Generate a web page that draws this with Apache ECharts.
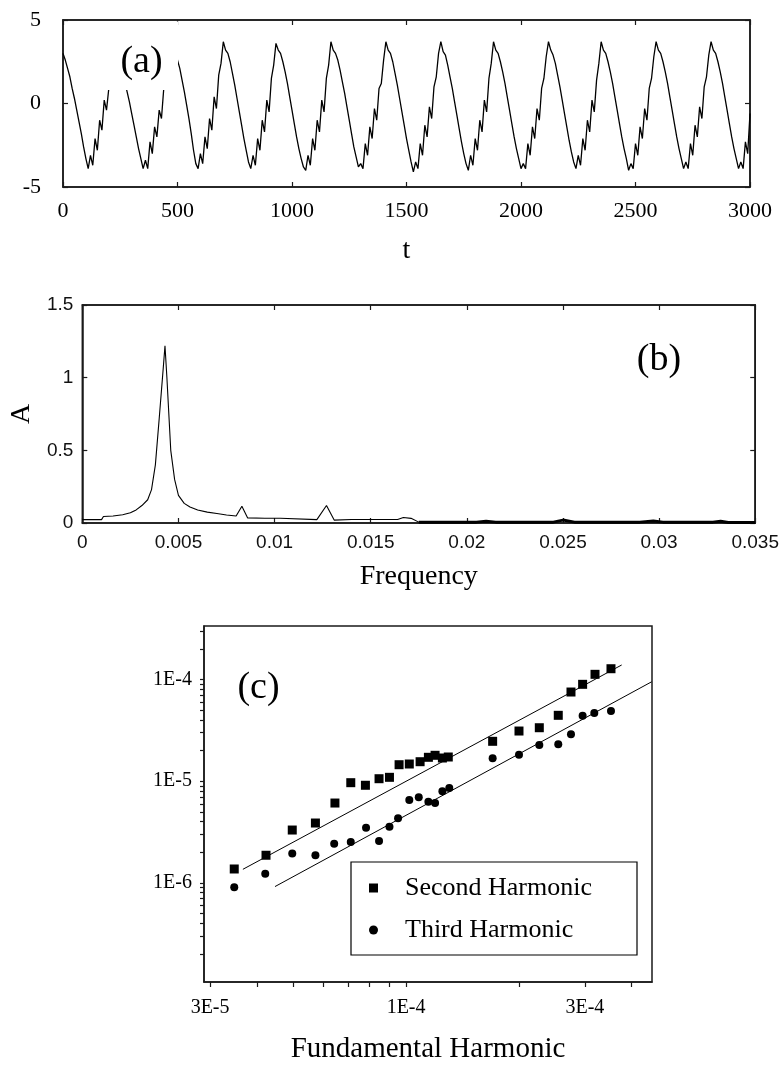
<!DOCTYPE html>
<html><head><meta charset="utf-8">
<script src="https://cdn.jsdelivr.net/npm/echarts@6.0.0/dist/echarts.min.js"></script>
<style>html,body{margin:0;padding:0;background:#fff}#chart{width:782px;height:1072px}</style>
</head><body><div id="chart"></div>
<script>
// ---------- Panel (a): time series, one value every 10 time units from t=0 to t=3000
const timeStepA = 10;
const signalA = [
  3.0, 2.6, 2.1, 1.6, 0.9, 0.3, -0.4, -1.1, -1.8, -2.6,
  -3.3, -3.9, -3.1, -3.7, -2.1, -2.8, -1.0, -1.6, 0.2, -0.4,
  0.9, 1.3, 2.6, 3.5, 3.2, 2.7, 1.9, 1.3, 0.7, 0.1,
  -0.6, -1.3, -2.0, -2.7, -3.3, -3.9, -3.4, -3.9, -2.3, -3.0,
  -1.4, -2.0, -0.4, -0.9, 0.9, 1.8, 2.9, 3.6, 3.3, 3.0,
  2.6, 2.1, 1.4, 0.7, -0.1, -0.9, -1.8, -2.8, -3.6, -3.9,
  -3.0, -3.6, -2.0, -2.7, -0.9, -1.6, 0.4, -0.3, 1.7, 2.4,
  3.7, 3.2, 3.0, 2.5, 1.8, 1.1, 0.3, -0.5, -1.3, -2.1,
  -2.8, -3.5, -3.9, -3.1, -3.7, -2.1, -2.8, -1.0, -1.7, 0.2,
  -0.5, 1.5, 2.3, 3.6, 3.2, 3.0, 2.5, 1.9, 1.2, 0.4,
  -0.4, -1.2, -2.0, -2.7, -3.3, -3.8, -4.0, -3.1, -3.7, -2.1,
  -2.8, -1.0, -1.7, 0.2, -0.5, 1.5, 2.3, 3.7, 3.2, 3.0,
  2.6, 2.0, 1.3, 0.6, -0.2, -1.0, -1.8, -2.6, -3.2, -3.8,
  -3.6, -3.9, -2.4, -3.1, -1.4, -2.1, -0.3, -1.0, 0.9, 1.2,
  2.6, 3.7, 3.2, 3.0, 2.5, 1.8, 1.1, 0.3, -0.5, -1.3,
  -2.1, -2.8, -3.5, -4.1, -3.5, -3.9, -2.4, -3.1, -1.3, -2.0,
  -0.2, -0.9, 1.0, 1.6, 3.0, 3.7, 3.1, 2.9, 2.3, 1.6,
  0.9, 0.1, -0.7, -1.5, -2.3, -3.0, -3.6, -4.0, -3.1, -3.7,
  -2.1, -2.8, -1.0, -1.7, 0.2, -0.5, 1.5, 2.4, 3.7, 3.2,
  3.0, 2.5, 1.9, 1.2, 0.4, -0.4, -1.2, -2.0, -2.7, -3.3,
  -3.9, -3.6, -3.9, -2.4, -3.1, -1.4, -2.1, -0.3, -1.0, 0.9,
  1.5, 2.8, 3.7, 3.2, 2.9, 2.4, 1.7, 1.0, 0.2, -0.6,
  -1.4, -2.2, -2.9, -3.5, -3.9, -3.1, -3.7, -2.1, -2.8, -1.0,
  -1.7, 0.2, -0.5, 1.4, 2.4, 3.7, 3.2, 3.0, 2.5, 1.9,
  1.2, 0.4, -0.4, -1.2, -2.0, -2.7, -3.3, -4.0, -3.6, -3.9,
  -2.4, -3.1, -1.4, -2.1, -0.3, -1.0, 0.9, 1.5, 2.8, 3.7,
  3.2, 3.0, 2.5, 1.9, 1.2, 0.4, -0.4, -1.2, -2.0, -2.7,
  -3.3, -3.9, -3.5, -3.9, -2.4, -3.1, -1.3, -2.0, -0.2, -0.9,
  1.0, 1.6, 2.9, 3.7, 3.2, 3.0, 2.5, 1.9, 1.2, 0.4,
  -0.4, -1.2, -2.0, -2.7, -3.3, -3.9, -3.5, -3.9, -2.3, -3.0,
  -0.6
];

// ---------- Panel (b): amplitude spectrum
const freqB = [0, 0.0010, 0.0011, 0.0016, 0.0021, 0.0025, 0.0028, 0.0031, 0.0034, 0.0036,
  0.0038, 0.0040, 0.0042, 0.0043, 0.0044, 0.0045, 0.0046, 0.0048, 0.0050, 0.0053,
  0.0056, 0.0060, 0.0065, 0.0070, 0.0075, 0.0080, 0.0083, 0.0086, 0.0095, 0.0103,
  0.0104, 0.0122, 0.0127, 0.0131, 0.0140, 0.0150, 0.0164, 0.0167, 0.0171, 0.0175];
const ampB = [0.023, 0.023, 0.045, 0.048, 0.057, 0.07, 0.09, 0.12, 0.16, 0.23,
  0.40, 0.72, 1.05, 1.22, 1.0, 0.75, 0.50, 0.30, 0.19, 0.135,
  0.11, 0.09, 0.075, 0.065, 0.055, 0.048, 0.115, 0.035, 0.033, 0.033,
  0.023, 0.023, 0.12, 0.02, 0.024, 0.024, 0.024, 0.038, 0.032, 0.006];
// noise floor above 0.0175 (drawn heavier)
const freqTailB = [0.0175, 0.0205, 0.0210, 0.0215, 0.0245, 0.0250, 0.0256, 0.0290, 0.0297, 0.0302, 0.0328, 0.0332, 0.0336, 0.0350];
const ampTailB  = [0.006, 0.006, 0.012, 0.006, 0.006, 0.020, 0.006, 0.006, 0.014, 0.006, 0.006, 0.012, 0.004, 0.004];

// ---------- Panel (c): harmonics vs fundamental (log-log)
const fundamental2 = [3.48e-5, 4.23e-5, 4.97e-5, 5.73e-5, 6.46e-5, 7.12e-5, 7.79e-5, 8.47e-5, 9.03e-5, 9.58e-5,
  1.02e-4, 1.09e-4, 1.147e-4, 1.195e-4, 1.25e-4, 1.296e-4, 1.702e-4, 2.001e-4, 2.267e-4, 2.547e-4,
  2.754e-4, 2.958e-4, 3.192e-4, 3.521e-4];
const secondHarmonic = [1.37e-6, 1.87e-6, 3.31e-6, 3.88e-6, 6.10e-6, 9.67e-6, 9.12e-6, 1.058e-5, 1.092e-5, 1.453e-5,
  1.476e-5, 1.555e-5, 1.718e-5, 1.798e-5, 1.691e-5, 1.73e-5, 2.468e-5, 3.115e-5, 3.357e-5, 4.446e-5,
  7.535e-5, 8.97e-5, 1.125e-4, 1.277e-4];
const fundamental3 = [3.48e-5, 4.21e-5, 4.97e-5, 5.73e-5, 6.43e-5, 7.12e-5, 7.82e-5, 8.47e-5, 9.03e-5, 9.52e-5,
  1.02e-4, 1.081e-4, 1.147e-4, 1.195e-4, 1.25e-4, 1.304e-4, 1.702e-4, 2.001e-4, 2.267e-4, 2.547e-4,
  2.754e-4, 2.958e-4, 3.178e-4, 3.521e-4];
const thirdHarmonic = [9.05e-7, 1.23e-6, 1.95e-6, 1.87e-6, 2.43e-6, 2.52e-6, 3.49e-6, 2.58e-6, 3.57e-6, 4.32e-6,
  6.53e-6, 6.94e-6, 6.29e-6, 6.10e-6, 7.96e-6, 8.57e-6, 1.68e-5, 1.823e-5, 2.27e-5, 2.306e-5,
  2.892e-5, 4.406e-5, 4.684e-5, 4.90e-5];
const fitSecondX = [3.67e-5, 3.76e-4];
const fitSecondY = [1.36e-6, 1.39e-4];
const fitThirdX = [4.47e-5, 4.52e-4];
const fitThirdY = [9.2e-7, 9.5e-5];
const xLabelValuesC = [3e-5, 1e-4, 3e-4];
const xTickValuesC = [3e-5, 4e-5, 5e-5, 6e-5, 7e-5, 8e-5, 9e-5, 1e-4, 2e-4, 3e-4, 4e-4];
const yLabelValuesC = [1e-6, 1e-5, 1e-4];
const yTickValuesC = [2e-7, 3e-7, 4e-7, 5e-7, 6e-7, 7e-7, 8e-7, 9e-7, 1e-6, 2e-6, 3e-6, 4e-6, 5e-6, 6e-6, 7e-6, 8e-6, 9e-6,
  1e-5, 2e-5, 3e-5, 4e-5, 5e-5, 6e-5, 7e-5, 8e-5, 9e-5, 1e-4, 2e-4, 3e-4];

// ---------- chart
const SERIF = '"Liberation Serif","Times New Roman",serif';
const SANS = '"Liberation Sans",Arial,sans-serif';
const INK = '#1a1a1a';
const pairs = (xs, ys) => xs.map((x, i) => [x, ys[i]]);
const sciLabel = v => {
  const e = Math.floor(Math.log10(v) + 1e-9);
  const m = Math.round(v / Math.pow(10, e));
  return m + 'E' + e;
};
const lineA = {color: INK, width: 1.5};
function mirror(base, pos) {
  return Object.assign({}, base, {
    position: pos, name: '', axisLabel: {show: false},
    axisTick: {show: true, inside: true, length: 5, lineStyle: {color: INK, width: 1.2}}
  });
}
const ax0 = {gridIndex: 0, type: 'value', min: 0, max: 3000, interval: 500, axisLine: {show: true, onZero: false, lineStyle: lineA},
  axisTick: {inside: true, length: 5, lineStyle: {color: INK, width: 1.2}}, splitLine: {show: false},
  axisLabel: {color: '#000', fontFamily: SERIF, fontSize: 22, margin: 13, formatter: v => String(v)},
  name: 't', nameLocation: 'middle', nameGap: 50, nameTextStyle: {color: '#000', fontFamily: SERIF, fontSize: 28}};
const ay0 = {gridIndex: 0, type: 'value', min: -5, max: 5, interval: 5, axisLine: {show: true, onZero: false, lineStyle: lineA},
  axisTick: {inside: true, length: 5, lineStyle: {color: INK, width: 1.2}}, splitLine: {show: false},
  axisLabel: {color: '#000', fontFamily: SERIF, fontSize: 22, margin: 22}};
const ax1 = {gridIndex: 1, type: 'value', min: 0, max: 0.035, interval: 0.005, axisLine: {show: true, onZero: false, lineStyle: lineA},
  axisTick: {inside: true, length: 5, lineStyle: {color: INK, width: 1.2}}, splitLine: {show: false},
  axisLabel: {color: '#111', fontFamily: SANS, fontSize: 19, margin: 10},
  name: 'Frequency', nameLocation: 'middle', nameGap: 40, nameTextStyle: {color: '#000', fontFamily: SERIF, fontSize: 28}};
const ay1 = {gridIndex: 1, type: 'value', min: 0, max: 1.5, interval: 0.5, axisLine: {show: true, onZero: false, lineStyle: lineA},
  axisTick: {inside: true, length: 5, lineStyle: {color: INK, width: 1.2}}, splitLine: {show: false},
  axisLabel: {color: '#111', fontFamily: SANS, fontSize: 19, margin: 9},
  name: 'A', nameLocation: 'middle', nameGap: 38, nameRotate: 90, nameTextStyle: {color: '#000', fontFamily: SERIF, fontSize: 28}};
const ax2 = {gridIndex: 2, type: 'log', logBase: 10, min: 2.89e-5, max: 4.53e-4,
  axisLine: {show: true, onZero: false, lineStyle: lineA},
  axisTick: {show: true, inside: false, length: 5, customValues: xTickValuesC, lineStyle: {color: INK, width: 1.2}},
  minorTick: {show: false}, splitLine: {show: false},
  axisLabel: {color: '#000', fontFamily: SERIF, fontSize: 20, margin: 16, customValues: xLabelValuesC, formatter: sciLabel},
  name: 'Fundamental Harmonic', nameLocation: 'middle', nameGap: 53, nameTextStyle: {color: '#000', fontFamily: SERIF, fontSize: 29}};
const ay2 = {gridIndex: 2, type: 'log', logBase: 10, min: 1.06e-7, max: 3.36e-4,
  axisLine: {show: true, onZero: false, lineStyle: lineA},
  axisTick: {show: true, inside: false, length: 4, customValues: yTickValuesC, lineStyle: {color: INK, width: 1.2}},
  minorTick: {show: false}, splitLine: {show: false},
  axisLabel: {color: '#000', fontFamily: SERIF, fontSize: 20, margin: 12, customValues: yLabelValuesC, formatter: sciLabel}};

const gridBase = {show: true, borderColor: INK, borderWidth: 1.5, backgroundColor: 'transparent', containLabel: false};
const option = {
  animation: false,
  backgroundColor: '#fff',
  grid: [
    Object.assign({left: 63, top: 20, width: 687, height: 167}, gridBase),
    Object.assign({left: 71, top: 305, width: 686, height: 218}, gridBase),
    Object.assign({left: 204, top: 626, width: 448, height: 356}, gridBase)
  ],
  xAxis: [ax0, mirror(ax0, 'top'), ax1, mirror(ax1, 'top'), ax2],
  yAxis: [ay0, mirror(ay0, 'right'), ay1, mirror(ay1, 'right'), ay2],
  legend: {
    data: [{name: 'Second Harmonic', icon: 'rect'}, {name: 'Third Harmonic', icon: 'circle'}],
    orient: 'vertical', left: 351, top: 862, itemWidth: 9, itemHeight: 9, itemGap: 16,
    padding: [13, 45, 12, 18], borderColor: '#000', borderWidth: 1.2, backgroundColor: '#fff',
    selectedMode: false,
    formatter: n => '{g| }' + n,
    textStyle: {color: '#000', fontFamily: SERIF, fontSize: 26, rich: {g: {width: 22}}}
  },
  series: [
    {type: 'line', xAxisIndex: 0, yAxisIndex: 0, data: signalA.map((v, i) => [i * timeStepA, v]),
      showSymbol: false, symbol: 'none', lineStyle: {color: '#000', width: 1.3}, silent: true},
    {type: 'line', xAxisIndex: 2, yAxisIndex: 2, data: pairs(freqB, ampB),
      showSymbol: false, symbol: 'none', lineStyle: {color: '#000', width: 1.1}, silent: true},
    {type: 'line', xAxisIndex: 2, yAxisIndex: 2, data: pairs(freqTailB, ampTailB),
      showSymbol: false, symbol: 'none', lineStyle: {color: '#000', width: 3}, silent: true},
    {name: 'Second Harmonic', type: 'scatter', xAxisIndex: 4, yAxisIndex: 4, data: pairs(fundamental2, secondHarmonic),
      symbol: 'rect', symbolSize: 9, itemStyle: {color: '#000', opacity: 1}},
    {name: 'Third Harmonic', type: 'scatter', xAxisIndex: 4, yAxisIndex: 4, data: pairs(fundamental3, thirdHarmonic),
      symbol: 'circle', symbolSize: 8, itemStyle: {color: '#000', opacity: 1}},
    {type: 'line', xAxisIndex: 4, yAxisIndex: 4, data: pairs(fitSecondX, fitSecondY),
      symbol: 'none', lineStyle: {color: '#000', width: 1}, silent: true},
    {type: 'line', xAxisIndex: 4, yAxisIndex: 4, data: pairs(fitThirdX, fitThirdY),
      symbol: 'none', lineStyle: {color: '#000', width: 1}, silent: true}
  ],
  graphic: [
    {type: 'rect', z: 100, shape: {x: 108, y: 21.5, width: 70, height: 68.5}, style: {fill: '#fff'}},
    {type: 'text', z: 101, x: 141.5, y: 62, style: {text: '(a)', font: '38px "Liberation Serif", serif', fill: '#000', align: 'center', verticalAlign: 'middle'}},
    {type: 'text', z: 101, x: 659, y: 360, style: {text: '(b)', font: '38px "Liberation Serif", serif', fill: '#000', align: 'center', verticalAlign: 'middle'}},
    {type: 'text', z: 101, x: 258.5, y: 688, style: {text: '(c)', font: '38px "Liberation Serif", serif', fill: '#000', align: 'center', verticalAlign: 'middle'}}
  ]
};
const chart = echarts.init(document.getElementById('chart'), null, {renderer: 'canvas'});
chart.setOption(option);
</script>
</body></html>
